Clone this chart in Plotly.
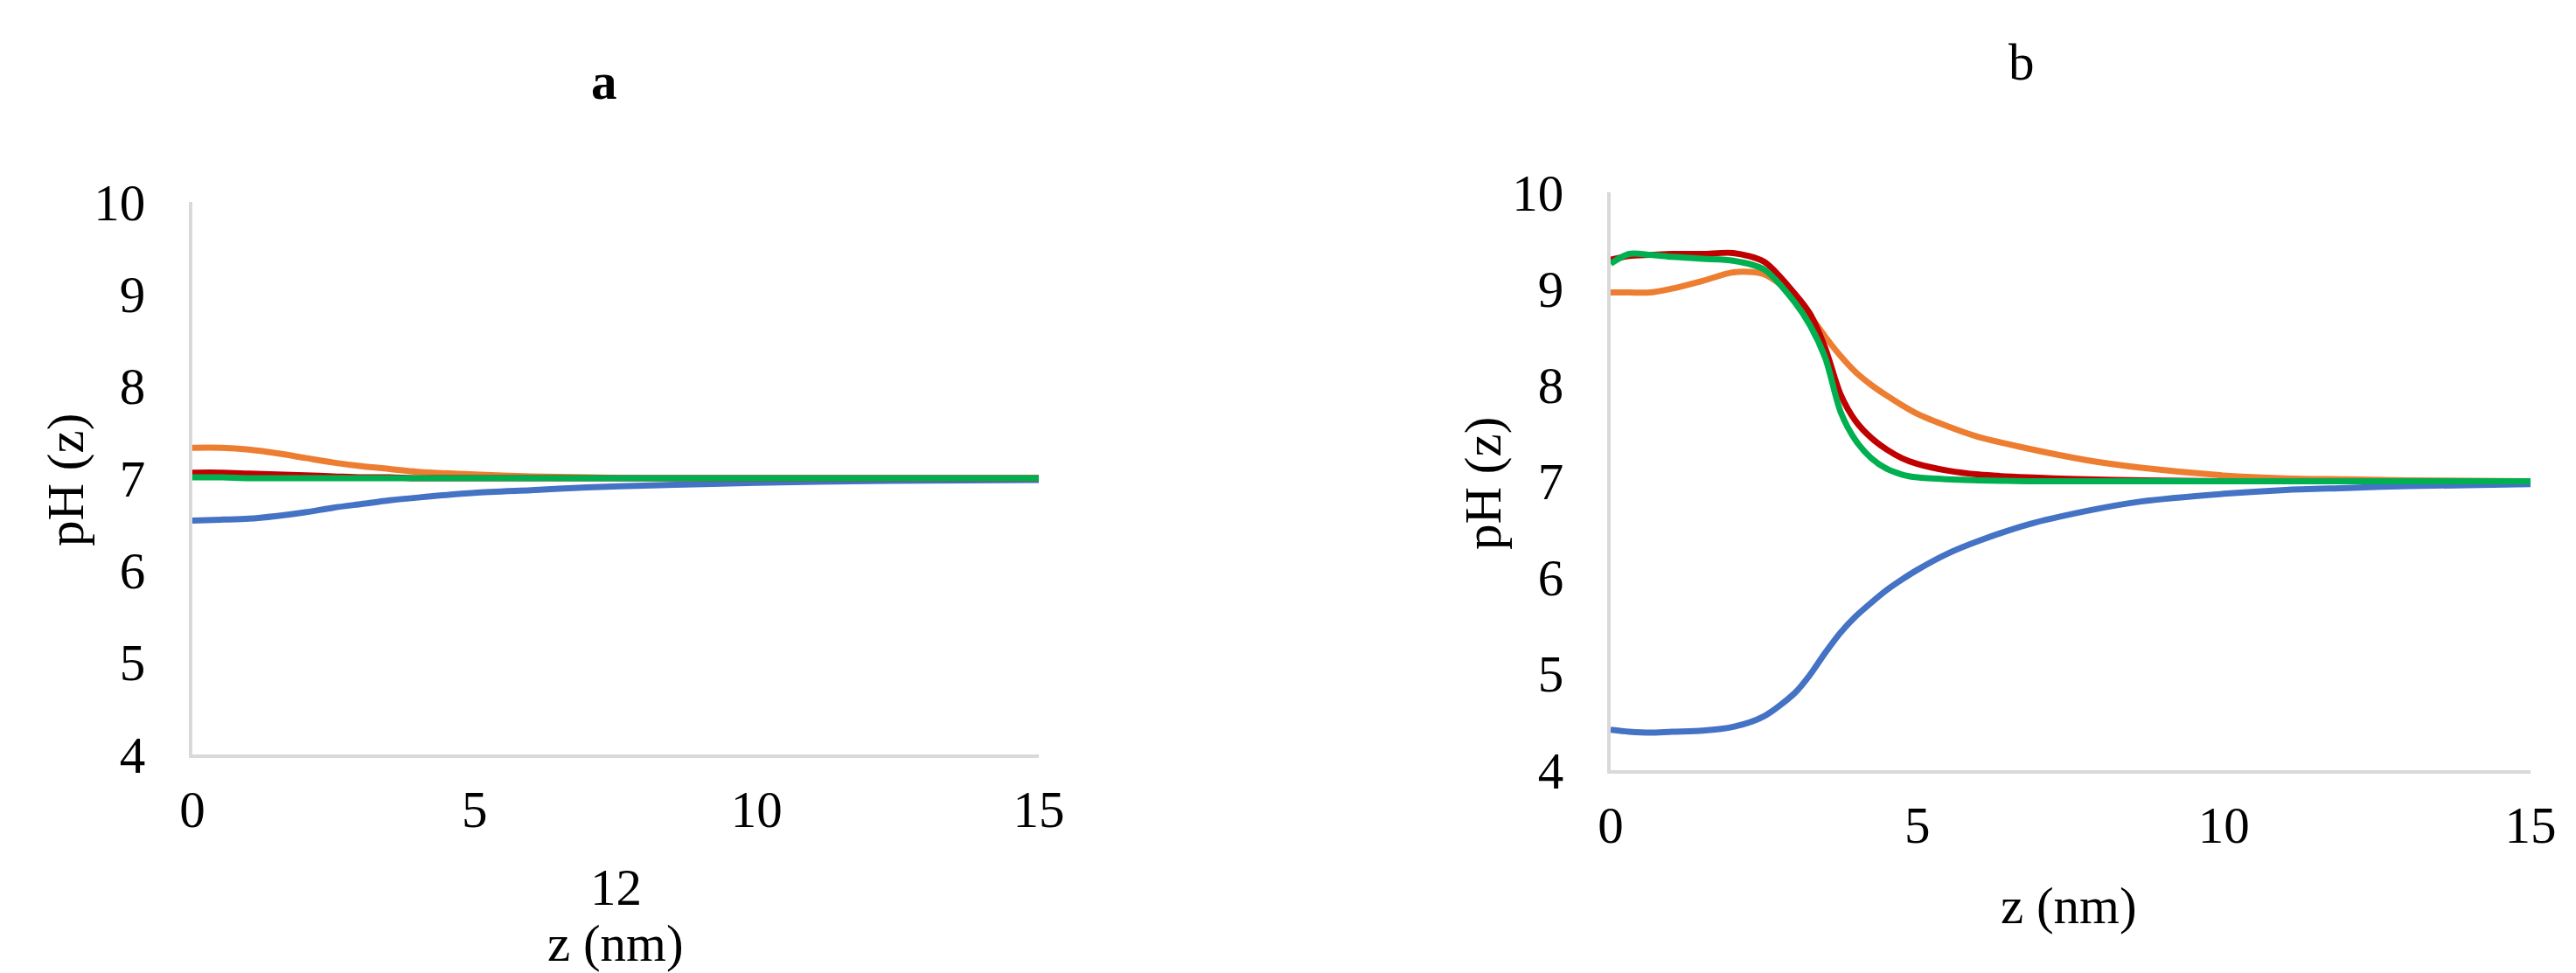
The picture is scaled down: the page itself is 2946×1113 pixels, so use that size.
import plotly.graph_objects as go

# panel a
z_a = [0, 0.5, 1, 1.5, 2, 2.5, 3, 3.5, 4, 5, 6, 7, 8, 10, 12, 15]
blue_a = [6.54, 6.55, 6.56, 6.59, 6.63, 6.68, 6.72, 6.76, 6.79, 6.84, 6.87, 6.90, 6.92, 6.95, 6.97, 6.98]
orange_a = [7.33, 7.33, 7.31, 7.27, 7.22, 7.17, 7.13, 7.10, 7.07, 7.04, 7.02, 7.01, 7.0, 7.0, 7.0, 7.0]
red_a = [7.06, 7.06, 7.05, 7.04, 7.03, 7.02, 7.01, 7.01, 7.0, 7.0, 7.0, 7.0, 7.0, 7.0, 7.0, 7.0]
green_a = [7.01, 7.01, 7.0, 7.0, 7.0, 7.0, 7.0, 7.0, 7.0, 7.0, 7.0, 7.0, 7.0, 7.0, 7.0, 7.0]

# panel b
z_b = [0, 0.3, 0.65, 1, 1.5, 2, 2.5, 3, 3.25, 3.5, 3.75, 4, 4.25, 4.5, 4.75, 5, 5.5, 6, 6.8, 7.75, 8.65, 10, 11, 12, 13, 15]
blue_b = [4.42, 4.40, 4.39, 4.40, 4.41, 4.45, 4.56, 4.80, 4.99, 5.22, 5.43, 5.60, 5.74, 5.87, 5.98, 6.08, 6.25, 6.38, 6.55, 6.69, 6.79, 6.87, 6.91, 6.93, 6.95, 6.97]
orange_b = [8.96, 8.96, 8.96, 9.0, 9.08, 9.17, 9.15, 8.92, 8.72, 8.50, 8.30, 8.13, 8.00, 7.89, 7.79, 7.70, 7.57, 7.46, 7.34, 7.22, 7.14, 7.06, 7.03, 7.02, 7.01, 7.0]
red_b = [9.30, 9.34, 9.35, 9.36, 9.36, 9.37, 9.28, 8.95, 8.74, 8.38, 7.90, 7.62, 7.45, 7.33, 7.24, 7.18, 7.11, 7.07, 7.04, 7.02, 7.01, 7.0, 7.0, 7.0, 7.0, 7.0]
green_b = [9.26, 9.36, 9.35, 9.33, 9.31, 9.29, 9.20, 8.86, 8.62, 8.28, 7.72, 7.42, 7.24, 7.13, 7.07, 7.04, 7.02, 7.01, 7.0, 7.0, 7.0, 7.0, 7.0, 7.0, 7.0, 7.0]

x_ticks = [0, 5, 10, 15]
y_ticks = [4, 5, 6, 7, 8, 9, 10]

colors = {'blue': '#4472C4', 'orange': '#ED7D31', 'red': '#C00000', 'green': '#00B050'}
FONT = 'Liberation Serif, Times New Roman, serif'
FS = 59

fig = go.Figure()

panels = [
    ('x', 'y', z_a, [('blue', blue_a), ('orange', orange_a), ('red', red_a), ('green', green_a)]),
    ('x2', 'y2', z_b, [('blue', blue_b), ('orange', orange_b), ('red', red_b), ('green', green_b)]),
]
for xa, ya, zz, series in panels:
    for cname, vals in series:
        fig.add_trace(go.Scatter(x=zz, y=vals, xaxis=xa, yaxis=ya, mode='lines',
                                 line=dict(color=colors[cname], width=7, shape='spline', smoothing=0.8),
                                 name=cname, showlegend=False))

xaxis = dict(range=[0, 15], tickvals=x_ticks, showgrid=False, zeroline=False, automargin=False,
             showline=True, linecolor='#d9d9d9', linewidth=4, layer='below traces',
             ticks='outside', ticklen=8, tickcolor='rgba(0,0,0,0)',
             tickfont=dict(family=FONT, size=FS, color='black'))
yaxis = dict(range=[4, 10], tickvals=y_ticks, showgrid=False, zeroline=False, automargin=False,
             showline=True, linecolor='#d9d9d9', linewidth=4, layer='below traces',
             ticks='outside', ticklen=38, tickcolor='rgba(0,0,0,0)',
             tickfont=dict(family=FONT, size=FS, color='black'))

fig.update_layout(
    width=2946, height=1113,
    plot_bgcolor='white', paper_bgcolor='white',
    margin=dict(l=0, r=0, t=0, b=0, autoexpand=False),
    xaxis=dict(xaxis, domain=[212 / 2946, 1180 / 2946], anchor='y'),
    yaxis=dict(yaxis, domain=[1 - 855 / 1113, 1 - 223 / 1113], anchor='x'),
    xaxis2=dict(xaxis, domain=[1834 / 2946, 2886 / 2946], anchor='y2'),
    yaxis2=dict(yaxis, domain=[1 - 873 / 1113, 1 - 212 / 1113], anchor='x2'),
)

txt = dict(family=FONT, size=FS, color='black')
ann = [
    dict(text='<b>a</b>', x=683, y=85),
    dict(text='b', x=2304, y=63),
    dict(text='12', x=696, y=1007),
    dict(text='z (nm)', x=696, y=1071),
    dict(text='z (nm)', x=2358, y=1028),
]
for a in ann:
    fig.add_annotation(text=a['text'], x=a['x'] / 2946, y=1 - a['y'] / 1113, xref='paper', yref='paper',
                       showarrow=False, font=txt, xanchor='center', yanchor='middle')
for x, y in [(67, 541), (1688, 545)]:
    fig.add_annotation(text='pH (z)', x=x / 2946, y=1 - y / 1113, xref='paper', yref='paper',
                       showarrow=False, font=txt, textangle=-90, xanchor='center', yanchor='middle')

fig.write_html('out.html')
